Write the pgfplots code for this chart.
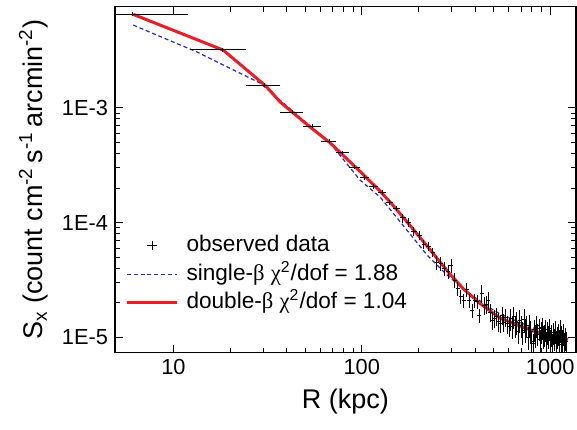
\documentclass[border=0pt]{standalone}
\usepackage{fontspec}
\setmainfont{Liberation Sans}
\newfontfamily\grk{Liberation Serif}
\usepackage{pgfplots}
\usepackage{pgfplotstable}
\pgfplotsset{compat=1.18}
\definecolor{fitred}{RGB}{237,28,36}
\definecolor{fitblue}{RGB}{40,40,190}

% R (kpc), Sx, half bin width, relative error of Sx
\pgfplotstableread{
R S eR eS
6.1 6.52e-3 5.9 0.02
18.3 3.20e-3 6.1 0.02
30.5 1.57e-3 6.1 0.02
42.7 9.2e-4 6.1 0.02
54.9 6.9e-4 6.1 0.02
67.1 5.1e-4 6.1 0.02
79.3 4.05e-4 6.1 0.02
91.5 3.05e-4 6.1 0.02
103.7 2.45e-4 6.1 0.05
115.9 2.08e-4 6.1 0.05
128.1 1.82e-4 6.1 0.05
140.3 1.50e-4 6.1 0.05
152.5 1.33e-4 6.1 0.05
164.7 1.10e-4 6.1 0.09
176.9 1.00e-4 6.1 0.09
189.1 8.4e-5 6.1 0.09
201.3 7.8e-5 6.1 0.09
213.5 6.5e-5 6.1 0.09
225.7 6.2e-5 6.1 0.09
237.9 5.5e-5 6.1 0.09
250.1 4.5e-5 6.1 0.14
262.3 4.4e-5 6.1 0.14
274.5 4.0e-5 6.1 0.14
286.7 3.73e-5 6.1 0.14
298.9 4.2e-5 6.1 0.14
311.1 3.16e-5 6.1 0.14
323.3 2.69e-5 6.1 0.14
335.5 2.26e-5 6.1 0.14
347.7 2.10e-5 6.1 0.14
359.9 2.63e-5 6.1 0.14
372.1 2.11e-5 6.1 0.14
384.3 1.73e-5 6.1 0.14
396.5 2.11e-5 6.1 0.14
408.7 2.05e-5 6.1 0.14
420.9 1.56e-5 6.1 0.14
433.1 2.42e-5 6.1 0.18
445.3 1.91e-5 6.1 0.18
457.5 1.95e-5 6.1 0.18
469.7 2.11e-5 6.1 0.18
481.9 1.66e-5 6.1 0.18
494.1 1.41e-5 6.1 0.18
506.3 1.47e-5 6.1 0.18
518.5 1.53e-5 6.1 0.18
530.7 1.37e-5 6.1 0.18
542.9 1.32e-5 6.1 0.18
555.1 1.55e-5 6.1 0.18
567.3 1.36e-5 6.1 0.18
579.5 1.50e-5 6.1 0.18
591.7 1.31e-5 6.1 0.18
603.9 1.24e-5 6.1 0.18
616.1 1.46e-5 6.1 0.22
628.3 1.24e-5 6.1 0.22
640.5 1.52e-5 6.1 0.22
652.7 1.27e-5 6.1 0.22
664.9 1.35e-5 6.1 0.22
677.1 1.12e-5 6.1 0.22
689.3 1.41e-5 6.1 0.22
701.5 1.27e-5 6.1 0.22
713.7 1.11e-5 6.1 0.22
725.9 1.44e-5 6.1 0.22
738.1 1.15e-5 6.1 0.22
750.3 1.26e-5 6.1 0.22
762.5 1.00e-5 6.1 0.22
774.7 1.28e-5 6.1 0.22
786.9 1.13e-5 6.1 0.22
799.1 9.16e-6 6.1 0.22
811.3 8.85e-6 6.1 0.22
823.5 1.17e-5 6.1 0.22
835.7 1.03e-5 6.1 0.22
847.9 1.27e-5 6.1 0.22
860.1 1.07e-5 6.1 0.22
872.3 1.19e-5 6.1 0.22
884.5 9.55e-6 6.1 0.22
896.7 1.12e-5 6.1 0.22
908.9 1.22e-5 6.1 0.22
921.1 1.02e-5 6.1 0.22
933.3 1.06e-5 6.1 0.22
945.5 1.17e-5 6.1 0.22
957.7 9.15e-6 6.1 0.22
969.9 1.11e-5 6.1 0.22
982.1 1.02e-5 6.1 0.22
994.3 1.19e-5 6.1 0.22
1006.5 9.50e-6 6.1 0.22
1018.7 1.06e-5 6.1 0.22
1030.9 8.69e-6 6.1 0.22
1043.1 1.10e-5 6.1 0.22
1055.3 9.74e-6 6.1 0.22
1067.5 1.13e-5 6.1 0.22
1079.7 9.04e-6 6.1 0.22
1091.9 1.01e-5 6.1 0.22
1104.1 1.07e-5 6.1 0.22
1116.3 9.33e-6 6.1 0.22
1128.5 1.15e-5 6.1 0.22
1140.7 8.76e-6 6.1 0.22
1152.9 1.02e-5 6.1 0.22
1165.1 9.57e-6 6.1 0.22
1177.3 1.08e-5 6.1 0.22
1189.5 8.81e-6 6.1 0.22
1201.7 9.85e-6 6.1 0.22
1213.9 9.13e-6 6.1 0.22
}\obsdata

\begin{document}
\begin{tikzpicture}
\begin{axis}[
  xmode=log, ymode=log,
  scale only axis, width=230.5pt, height=173pt,
  xmin=4.9, xmax=1370, ymin=7.35e-6, ymax=7.6e-3,
  xtick={10,100,1000}, xticklabels={10,100,1000},
  ytick={1e-5,1e-4,1e-3}, yticklabels={1E-5,1E-4,1E-3},
  tick align=inside, tick pos=both,
  major tick length=4pt, minor tick length=2.5pt,
  tick style={black, line width=0.5pt},
  axis line style={line width=0.6pt},
  tick label style={font=\fontsize{10.9}{12}\selectfont},
  label style={font=\fontsize{13.5}{15}\selectfont},
  xlabel={R (kpc)},
  ylabel={S\textsubscript{x} (count cm\textsuperscript{-2}\,s\textsuperscript{-1}\,arcmin\textsuperscript{-2})},
  legend image code/.code={\draw[mark repeat=2,mark phase=2,#1] plot coordinates {(0pt,0pt) (12.5pt,0pt) (25pt,0pt)};},
  legend style={draw=none, fill=none, at={(0.022,0.348)}, anchor=north west,
    font=\fontsize{11.3}{13}\selectfont, inner sep=0pt, row sep=1.25pt,
    nodes={inner sep=1pt, text height=8.4pt, text depth=2.6pt},
    /tikz/every odd column/.append style={column sep=3pt}},
  legend cell align=left,
]
\addlegendimage{only marks, mark=+, mark size=2.3pt, black, line width=0.5pt}
\addlegendentry{observed data}
\addlegendimage{fitblue, line width=0.6pt, dash pattern=on 2pt off 1.4pt}
\addlegendentry{single-{\grk β} {\grk χ}\textsuperscript{2}/dof = 1.88}
\addlegendimage{fitred, line width=1.5pt}
\addlegendentry{double-{\grk β} {\grk χ}\textsuperscript{2}/dof = 1.04}

\addplot[fitblue, line width=0.6pt, dash pattern=on 2pt off 1.4pt, forget plot] coordinates {
(6.13,5.25e-3) (13.36,3.06e-3) (28.86,1.641e-3) (67.9,4.93e-4) (97.9,2.345e-4)
(125.1,1.668e-4) (180.5,7.94e-5) (222.2,5.21e-5) (276.7,3.63e-5) (345.0,2.63e-5)
(479.8,1.80e-5) (542.1,1.60e-5) (811.3,1.205e-5) (1229.5,9.23e-6)};

\addplot[fitred, line width=1.5pt, forget plot] coordinates {
(6.13,6.51e-3) (18.4,3.18e-3) (31.0,1.545e-3) (36.8,1.127e-3) (52.0,7.0e-4) (67.9,4.95e-4)
(97.9,2.79e-4) (125.1,1.88e-4) (146.6,1.41e-4) (180.3,9.44e-5) (222.3,6.24e-5)
(260.6,4.52e-5) (294.4,3.55e-5) (345.1,2.66e-5) (424.6,1.97e-5) (542.0,1.47e-5)
(811.0,1.135e-5) (1245,9.61e-6)};

\addplot[only marks, mark=+, mark size=1pt, black, line width=0.45pt, forget plot,
  error bars/.cd, x dir=both, x explicit, y dir=both, y explicit relative,
  error mark=none, error bar style={line width=0.45pt, black}]
  table[x=R, y=S, x error=eR, y error=eS] {\obsdata};
\end{axis}
\pgfresetboundingbox
\path[use as bounding box] (-57.5pt,-38.15pt) rectangle (231pt,176.35pt);
\end{tikzpicture}
\end{document}
